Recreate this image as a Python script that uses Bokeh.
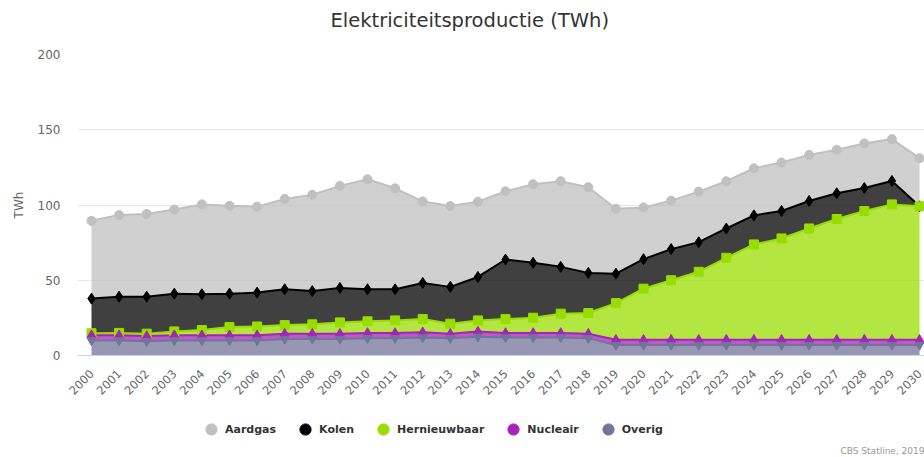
import math
from bokeh.plotting import figure
from bokeh.layouts import column
from bokeh.models import (ColumnDataSource, Range1d, FixedTicker, Legend, LegendItem, Label)
from bokeh.transform import stack
from bokeh.embed import file_html
from bokeh.resources import INLINE

years = [2000, 2001, 2002, 2003, 2004, 2005, 2006, 2007, 2008, 2009,
         2010, 2011, 2012, 2013, 2014, 2015, 2016, 2017, 2018, 2019,
         2020, 2021, 2022, 2023, 2024, 2025, 2026, 2027, 2028, 2029, 2030]

aardgas = [51.7, 54.2, 54.9, 55.9, 59.7, 58.4, 57.1, 60.0, 64.0, 67.8,
           73.1, 67.1, 54.2, 53.7, 50.0, 45.3, 52.2, 56.9, 56.9, 43.1,
           34.4, 32.2, 33.6, 31.4, 31.3, 32.2, 30.6, 28.9, 29.6, 27.8, 32.0]
kolen = [23.0, 24.1, 24.6, 25.1, 23.8, 22.2, 22.5, 23.8, 22.1, 22.9,
         21.3, 20.7, 24.0, 24.5, 28.9, 39.6, 36.5, 31.1, 26.7, 19.6,
         19.6, 20.7, 19.7, 19.5, 19.3, 18.2, 18.3, 17.1, 15.3, 15.6, 0.0]
hernieuwbaar = [1.3, 1.5, 1.5, 2.5, 3.4, 5.4, 5.8, 5.7, 6.2, 7.5,
                7.7, 8.3, 8.7, 6.6, 7.3, 9.2, 10.1, 12.8, 13.7, 24.3,
                33.9, 39.5, 45.1, 54.4, 63.3, 67.3, 73.9, 80.2, 85.5, 89.9, 88.6]
nucleair = [3.5, 3.5, 3.5, 3.5, 3.5, 3.5, 3.5, 3.5, 3.5, 3.5,
            3.5, 3.5, 3.5, 3.0, 3.5, 3.0, 3.0, 3.0, 3.0, 3.5,
            3.5, 3.5, 3.5, 3.5, 3.5, 3.5, 3.5, 3.5, 3.5, 3.5, 3.5]
overig = [10.0, 10.0, 9.5, 10.0, 10.0, 10.0, 10.0, 11.0, 11.0, 11.0,
          11.5, 11.5, 12.0, 11.5, 12.5, 12.0, 12.0, 12.0, 11.5, 7.0,
          7.0, 7.0, 7.0, 7.0, 7.0, 7.0, 7.0, 7.0, 7.0, 7.0, 7.0]

series_names = ["Aardgas", "Kolen", "Hernieuwbaar", "Nucleair", "Overig"]
y_ticks = [0, 50, 100, 150, 200]

source = ColumnDataSource(dict(year=years, Aardgas=aardgas, Kolen=kolen,
                               Hernieuwbaar=hernieuwbaar, Nucleair=nucleair,
                               Overig=overig))

colors = {"Aardgas": "#c0c0c0", "Kolen": "#000000", "Hernieuwbaar": "#99dd00",
          "Nucleair": "#a424b8", "Overig": "#74749a"}
markers = {"Aardgas": "circle", "Kolen": "diamond", "Hernieuwbaar": "square",
           "Nucleair": "triangle", "Overig": "inverted_triangle"}
msize = {"Aardgas": 9, "Kolen": 11, "Hernieuwbaar": 9, "Nucleair": 9, "Overig": 9}

FONT = "DejaVu Sans"


def bare(fig):
    fig.axis.visible = False
    fig.grid.grid_line_color = None
    fig.outline_line_color = None


# title strip
p0 = figure(width=924, height=44, output_backend="svg", toolbar_location=None,
            x_range=Range1d(0, 1), y_range=Range1d(0, 1),
            min_border_left=0, min_border_right=0, min_border_top=0,
            min_border_bottom=0)
bare(p0)
p0.add_layout(Label(x=253, y=24, x_units="screen", y_units="screen",
                    text="Elektriciteitsproductie (TWh)", text_font=FONT,
                    text_font_size="19.5px", text_color="#333333",
                    text_baseline="middle"))

# main chart
p = figure(width=924, height=366, output_backend="svg", toolbar_location=None,
           x_range=Range1d(1999.493, 2030.18), y_range=Range1d(0, 200),
           min_border_left=77, min_border_right=0, min_border_top=10,
           min_border_bottom=55)
p.outline_line_color = None

# stack from bottom to top
stackers = ["Overig", "Nucleair", "Hernieuwbaar", "Kolen", "Aardgas"]
p.varea_stack(stackers=stackers, x="year", source=source,
              color=[colors[s] for s in stackers], fill_alpha=0.75)

draw_order = ["Aardgas", "Kolen", "Hernieuwbaar", "Nucleair", "Overig"]
for s in draw_order:
    idx = stackers.index(s)
    p.line(x="year", y=stack(*stackers[:idx + 1]), source=source,
           line_color=colors[s], line_width=2)
for s in draw_order:
    idx = stackers.index(s)
    p.scatter(x="year", y=stack(*stackers[:idx + 1]), source=source,
              marker=markers[s], size=msize[s], fill_color=colors[s],
              line_color=colors[s])

p.xaxis.ticker = FixedTicker(ticks=years)
p.xaxis.major_label_orientation = math.pi / 4
p.xaxis.major_label_text_font = FONT
p.xaxis.major_label_text_font_size = "11.5px"
p.xaxis.major_label_text_color = "#666666"
p.xaxis.axis_line_color = "#ccd6eb"
p.xaxis.major_tick_line_color = None
p.xaxis.minor_tick_line_color = None
p.xaxis.major_label_standoff = 10

p.yaxis.ticker = FixedTicker(ticks=y_ticks)
p.yaxis.axis_label = "TWh"
p.yaxis.axis_label_text_font = FONT
p.yaxis.axis_label_text_font_size = "12px"
p.yaxis.axis_label_text_font_style = "normal"
p.yaxis.axis_label_text_color = "#666666"
p.yaxis.axis_label_standoff = 9
p.yaxis.major_label_text_font = FONT
p.yaxis.major_label_text_font_size = "12px"
p.yaxis.major_label_text_color = "#666666"
p.yaxis.axis_line_color = None
p.yaxis.major_tick_line_color = None
p.yaxis.minor_tick_line_color = None
p.yaxis.major_label_standoff = 11

p.xgrid.grid_line_color = None
p.ygrid.grid_line_color = "#e6e6e6"

# legend strip
p2 = figure(width=924, height=47, output_backend="svg", toolbar_location=None,
            x_range=Range1d(0, 1), y_range=Range1d(0, 1),
            min_border_left=0, min_border_right=0, min_border_top=0,
            min_border_bottom=0)
bare(p2)

items = []
for s in series_names:
    # series points lie outside this strip's range; only used as legend glyphs
    r = p2.scatter(x="year", y=s, source=source, marker="circle", size=12,
                   fill_color=colors[s], line_color=colors[s])
    items.append(LegendItem(label=s, renderers=[r]))
legend = Legend(items=items, orientation="horizontal", location=(120, 14),
                border_line_color=None, background_fill_alpha=0,
                label_text_font=FONT, label_text_font_size="11px",
                label_text_font_style="bold", label_text_color="#333333",
                glyph_width=28, glyph_height=28, label_standoff=0,
                spacing=15, padding=0, margin=0)
p2.add_layout(legend, "center")

p2.add_layout(Label(x=763, y=2, x_units="screen", y_units="screen",
                    text="CBS Statline, 2019", text_font=FONT,
                    text_font_size="9px", text_color="#999999"))

layout = column(p0, p, p2, spacing=0)
open("out.html", "w").write(file_html(layout, INLINE))
